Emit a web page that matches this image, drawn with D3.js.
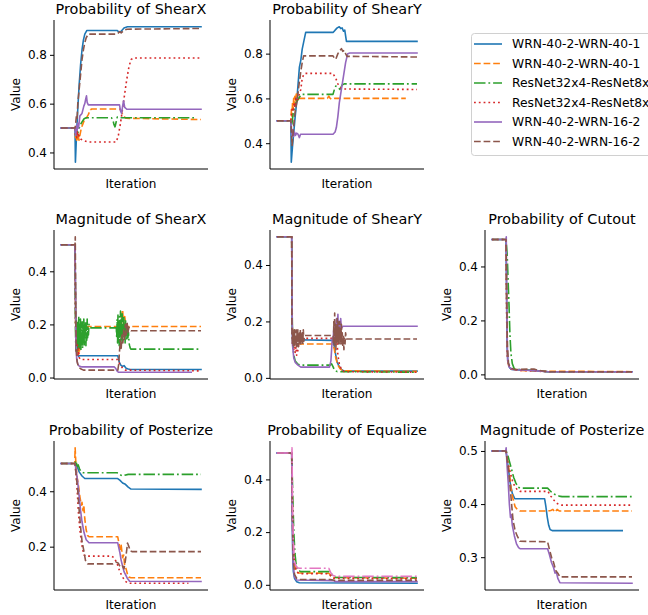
<!DOCTYPE html>
<html><head><meta charset="utf-8">
<script src="https://cdn.jsdelivr.net/npm/d3@7"></script>
<style>body{margin:0;background:#fff}svg{display:block}text{font-family:"DejaVu Sans",sans-serif;fill:#000}</style>
</head><body><svg id="c" width="648" height="615"></svg>
<script>
// ---------------- DATA ----------------
const seriesNames = ["WRN-40-2-WRN-40-1","WRN-40-2-WRN-40-1","ResNet32x4-ResNet8x4","ResNet32x4-ResNet8x4","WRN-40-2-WRN-16-2","WRN-40-2-WRN-16-2"];
const panelTitles = ["Probability of ShearX","Probability of ShearY",null,"Magnitude of ShearX","Magnitude of ShearY","Probability of Cutout","Probability of Posterize","Probability of Equalize","Magnitude of Posterize"];
const yTickValues = [[0.4,0.6,0.8],[0.4,0.6,0.8],null,[0,0.2,0.4],[0,0.2,0.4],[0,0.2,0.4],[0.2,0.4],[0,0.2,0.4],[0.3,0.4,0.5]];
const xLabel = "Iteration", yLabel = "Value";

// each series: [iteration(% of run), value]
const probShearX = [
 [[0,.5],[10,.5],[10.3,.36],[11,.46],[12,.58],[13,.68],[14,.76],[15,.82],[16,.86],[17,.885],[18.5,.9],[40,.9],[41.5,.893],[43,.897],[45,.91],[47.5,.915],[100,.915]],
 [[0,.5],[10,.5],[10.4,.46],[10.8,.49],[11.2,.45],[11.6,.48],[12,.455],[12.4,.47],[12.8,.45],[13.5,.47],[14.5,.5],[15.5,.515],[16.5,.53],[18,.54],[19.5,.555],[21,.575],[22,.578],[42,.578],[43,.57],[44.5,.55],[46.5,.54],[100,.535]],
 [[0,.5],[10,.5],[10.5,.47],[11.2,.49],[12,.48],[13,.5],[14,.515],[15,.525],[16.5,.538],[18,.542],[36,.542],[37,.535],[37.8,.515],[38.6,.505],[39.4,.525],[40.2,.545],[41.5,.542],[95,.542]],
 [[0,.5],[10,.5],[10.4,.47],[10.8,.5],[11.2,.46],[11.6,.49],[12,.465],[12.5,.48],[13,.46],[14,.455],[15.5,.45],[17,.447],[19,.443],[39.5,.443],[41,.47],[42.5,.52],[44,.58],[45.5,.64],[47,.7],[48.5,.75],[50,.78],[51.5,.787],[100,.787]],
 [[0,.5],[10,.5],[10.5,.47],[11,.51],[11.5,.49],[12,.52],[12.5,.5],[13.5,.55],[15,.56],[16.3,.59],[17,.6],[17.7,.62],[18.2,.632],[18.7,.605],[19.5,.595],[41.8,.595],[42.5,.57],[43.3,.56],[44,.59],[44.7,.612],[45.5,.585],[47,.577],[100,.577]],
 [[0,.5],[10,.5],[10.5,.52],[11,.55],[11.5,.54],[12,.6],[13,.66],[14,.72],[15,.78],[16,.82],[17,.85],[18,.87],[19.5,.885],[40,.885],[41,.89],[42,.895],[43,.89],[45,.9],[47,.905],[100,.908]]
];
const probShearY = [
 [[0,.5],[9.9,.5],[10.2,.315],[11,.38],[12,.45],[13,.52],[14,.58],[15,.66],[16,.74],[17,.77],[18,.82],[19,.85],[20.5,.895],[40.2,.895],[41.5,.905],[43,.915],[44.5,.92],[45.5,.912],[46.5,.915],[47.5,.9],[48.4,.905],[49.6,.855],[100,.855]],
 [[0,.5],[9.9,.5],[10.3,.55],[10.7,.52],[11.1,.58],[11.5,.55],[11.9,.6],[12.3,.57],[12.8,.61],[13.3,.59],[13.8,.62],[14.5,.6],[16,.6],[36,.6],[37,.61],[38,.6],[39,.596],[41,.6],[92,.6]],
 [[0,.5],[9.9,.5],[10.5,.48],[11.5,.53],[12.5,.56],[13.5,.58],[15,.595],[16.5,.61],[17.5,.618],[40,.618],[41,.64],[42,.655],[43.5,.65],[45,.64],[46.5,.66],[48,.665],[100,.665]],
 [[0,.5],[9.9,.5],[10.4,.53],[11,.56],[11.6,.54],[12.2,.58],[12.8,.56],[13.5,.6],[14.5,.59],[16,.62],[17,.64],[18,.69],[19,.705],[20,.712],[40,.712],[41,.7],[42,.69],[43.5,.665],[45,.65],[46.8,.642],[100,.64]],
 [[0,.5],[9.9,.5],[10.3,.47],[10.8,.43],[11.3,.46],[11.8,.43],[12.5,.45],[13.2,.435],[14,.445],[15,.44],[16,.425],[16.8,.44],[18,.44],[40,.44],[41.5,.45],[42.4,.47],[43.5,.52],[44.5,.58],[46,.64],[47.5,.7],[49,.76],[50.5,.8],[52,.803],[100,.803]],
 [[0,.5],[9.9,.5],[10.3,.45],[10.8,.39],[11.3,.43],[11.8,.47],[12.5,.52],[13.5,.56],[14.6,.6],[15.5,.65],[17,.72],[18,.76],[19,.79],[40,.79],[41,.78],[42,.775],[43.5,.8],[45,.815],[46,.822],[47,.81],[48,.815],[49,.8],[50,.788],[100,.785]]
];
const magShearX = [
 [[0,.5],[10,.5],[10.5,.25],[11,.12],[11.5,.09],[12.5,.08],[13,.082],[40.6,.082],[41.5,.06],[42.5,.048],[44,.042],[45,.045],[46.5,.035],[48,.032],[49.5,.03],[100,.03]],
 [[0,.5],[10,.5],[10.4,.2],[10.8,.12],[11.2,.19],[11.6,.09],[12,.16],[12.4,.08],[12.8,.13],[13.2,.1],[13.6,.17],[14,.19],[16,.192],[39,.192],[40,.19],[41,.2],[42,.17],[43,.22],[44,.255],[44.7,.2],[45.5,.23],[46.5,.19],[48,.192],[100,.192]],
 [[0,.5],[10,.5],[10.3,.2],[10.6,.1],[10.9,.22],[11.2,.12],[11.5,.21],[11.8,.1],[12.1,.19],[12.4,.13],[12.7,.23],[13,.11],[13.3,.2],[13.6,.12],[13.9,.22],[14.2,.1],[14.5,.18],[14.8,.14],[15.1,.21],[15.4,.11],[15.7,.2],[16,.13],[16.3,.22],[16.6,.12],[16.9,.19],[17.2,.15],[17.5,.21],[17.8,.12],[18.1,.2],[18.4,.14],[18.7,.22],[19,.15],[19.3,.19],[19.6,.16],[20,.2],[20.5,.187],[39.5,.187],[39.8,.15],[40.1,.22],[40.4,.13],[40.7,.24],[41,.14],[41.3,.21],[41.6,.12],[41.9,.23],[42.2,.15],[42.5,.25],[42.8,.13],[43.1,.22],[43.4,.16],[43.7,.24],[44,.14],[44.3,.2],[44.6,.17],[44.9,.23],[45.2,.15],[45.5,.2],[45.8,.13],[46.1,.22],[46.4,.16],[46.7,.2],[47,.14],[47.4,.19],[47.8,.15],[48.2,.17],[48.6,.13],[49,.12],[49.5,.11],[50,.107],[100,.107]],
 [[0,.5],[10,.5],[10.5,.2],[11,.1],[11.5,.13],[12,.08],[12.5,.11],[13,.075],[14,.068],[40.5,.068],[42,.05],[44,.035],[46,.028],[100,.025]],
 [[0,.5],[10,.5],[10.6,.15],[11.2,.07],[12,.05],[13,.043],[15,.04],[38,.04],[39,.035],[40,.025],[41,.02],[93,.02]],
 [[0,.5],[10,.5],[10.2,.53],[10.6,.2],[11,.1],[11.5,.06],[12.5,.04],[14,.033],[16,.028],[40.6,.028],[41.2,.05],[41.8,.1],[42.4,.14],[43,.11],[43.6,.16],[44.2,.13],[44.8,.18],[45.4,.14],[46,.2],[46.6,.16],[47.2,.21],[47.8,.17],[48.5,.19],[49.2,.18],[50,.176],[100,.176]]
];
const magShearY = [
 [[0,.5],[10.5,.5],[10.8,.2],[11.2,.14],[12,.13],[13,.135],[40,.133],[41,.11],[42,.08],[43,.055],[44.5,.04],[46,.03],[48,.024],[100,.024]],
 [[0,.5],[10.5,.5],[10.8,.2],[11.5,.13],[13,.12],[40,.12],[41,.1],[42,.07],[43.5,.045],[45,.033],[47,.025],[100,.023]],
 [[0,.5],[10.5,.5],[11,.15],[12,.08],[13,.06],[15,.048],[17,.045],[38,.045],[39,.05],[40,.04],[41,.028],[43,.022],[100,.02]],
 [[0,.5],[10.5,.5],[10.8,.16],[11.2,.12],[11.6,.15],[12,.1],[12.5,.13],[13,.09],[13.5,.11],[14,.08],[15,.1],[16,.13],[17,.14],[40,.14],[40.5,.13],[41,.17],[41.5,.12],[42,.16],[42.5,.14],[43,.12],[43.5,.08],[44.5,.05],[46,.03],[48,.022],[100,.02]],
 [[0,.5],[10.5,.5],[11,.12],[12,.07],[13,.055],[15,.045],[17,.038],[37.5,.038],[38.5,.06],[39,.1],[39.5,.14],[40,.13],[40.5,.17],[41,.14],[41.5,.19],[42,.15],[42.5,.21],[43,.16],[43.5,.225],[44,.15],[44.5,.2],[45,.17],[45.5,.21],[46,.175],[47,.183],[100,.183]],
 [[0,.5],[10.5,.5],[10.7,.16],[11,.12],[11.3,.17],[11.6,.11],[11.9,.16],[12.2,.12],[12.5,.17],[12.8,.11],[13.1,.15],[13.4,.12],[13.7,.17],[14,.11],[14.3,.16],[14.6,.13],[14.9,.17],[15.2,.11],[15.5,.15],[15.8,.12],[16.1,.16],[16.4,.13],[16.7,.17],[17,.12],[17.3,.15],[17.6,.13],[18,.16],[18.4,.12],[18.8,.17],[19.2,.13],[19.6,.15],[20.2,.15],[40,.15],[40.3,.12],[40.6,.2],[40.9,.11],[41.2,.23],[41.5,.13],[41.8,.19],[42.1,.1],[42.4,.18],[42.7,.12],[43,.21],[43.3,.14],[43.6,.2],[43.9,.12],[44.2,.18],[44.5,.14],[44.8,.2],[45.1,.12],[45.4,.17],[45.7,.13],[46,.19],[46.3,.12],[46.6,.16],[47,.11],[47.4,.15],[47.8,.1],[48.2,.14],[48.6,.12],[49,.16],[49.5,.138],[100,.138]]
];
const probCutout = [
 [[0,.5],[10,.5],[10.4,.3],[10.8,.1],[11.3,.05],[12.5,.025],[14,.018],[20,.016],[30,.015],[40,.01],[100,.01]],
 [[0,.5],[10,.5],[10.5,.25],[11,.08],[11.5,.04],[12.5,.03],[14,.02],[20,.015],[35,.012],[100,.01]],
 [[0,.5],[10,.5],[10.8,.45],[11.5,.35],[12.2,.25],[12.8,.15],[13.5,.08],[14.5,.04],[16,.02],[25,.016],[40,.01],[100,.01]],
 [[0,.5],[10,.5],[10.5,.2],[11,.06],[12,.03],[13.5,.02],[20,.015],[40,.01],[100,.008]],
 [[0,.5],[10,.5],[10.2,.51],[10.6,.2],[11.2,.05],[12.5,.025],[15,.018],[30,.014],[40,.01],[100,.01]],
 [[0,.5],[10,.5],[10.5,.3],[11,.1],[11.8,.04],[13,.025],[16,.018],[30,.02],[33,.015],[40,.01],[100,.01]]
];
const probPosterize = [
 [[0,.5],[10,.5],[11.5,.49],[13,.47],[15,.455],[17,.446],[40.5,.446],[42,.44],[44,.43],[46,.425],[48,.415],[50,.408],[100,.407]],
 [[0,.5],[9.8,.5],[10.1,.557],[10.6,.5],[11.5,.45],[12.5,.42],[13.5,.38],[14.5,.35],[15,.36],[15.7,.33],[16.3,.35],[17,.3],[18,.26],[19,.24],[20,.236],[40.5,.236],[41.5,.21],[42.3,.19],[43,.205],[44,.16],[44.8,.17],[45.5,.13],[46.5,.12],[47.5,.1],[48.5,.09],[50,.088],[100,.088]],
 [[0,.5],[10,.5],[10.7,.51],[11.5,.49],[12.3,.495],[13.3,.48],[14.5,.47],[16,.467],[40,.467],[42,.46],[44,.455],[45.5,.458],[48,.461],[100,.461]],
 [[0,.5],[10,.5],[10.8,.46],[11.6,.4],[12.5,.32],[13.5,.26],[14.5,.22],[15.5,.19],[16.5,.17],[17.5,.166],[36,.166],[38,.16],[40,.14],[42,.11],[44,.09],[46,.075],[48,.068],[91,.068]],
 [[0,.5],[10,.5],[11,.47],[12,.43],[13,.38],[14,.33],[15,.29],[16.5,.25],[18,.225],[20,.214],[40.5,.214],[42,.18],[43,.15],[44,.13],[45,.11],[46,.1],[47.5,.085],[49,.075],[100,.074]],
 [[0,.5],[10,.5],[11,.45],[12,.4],[13,.33],[14,.27],[15,.22],[16.5,.18],[17.5,.15],[19,.138],[37,.138],[39,.145],[41,.14],[42,.13],[43,.125],[44,.13],[45,.12],[46,.15],[47,.19],[47.5,.213],[48.5,.2],[49.5,.185],[51,.182],[100,.182]]
];
const probEqualize = [
 [[0,.5],[10.5,.5],[10.8,.3],[11.2,.12],[11.7,.05],[12.5,.025],[14,.012],[16,.008],[100,.006]],
 [[0,.5],[10.5,.5],[11,.3],[11.6,.15],[12.4,.08],[13.5,.055],[15,.045],[37,.044],[38.5,.035],[40,.028],[100,.025]],
 [[0,.5],[10.5,.5],[11.2,.35],[12,.2],[12.8,.12],[13.8,.07],[15,.055],[17,.05],[37,.05],[38.5,.045],[40,.032],[42,.028],[100,.027]],
 [[0,.5],[10.5,.5],[11,.3],[11.6,.15],[12.5,.08],[14,.05],[16,.042],[37,.042],[38.5,.033],[40,.025],[100,.022]],
 [[0,.5],[10.5,.5],[10.9,.25],[11.5,.08],[12.5,.03],[14,.018],[40,.016],[42,.012],[100,.012]],
 [[0,.5],[10.5,.5],[11,.25],[11.6,.1],[12.5,.04],[14,.025],[16,.02],[38,.02],[41,.017],[100,.017]],
 [[0,.5],[10.5,.5],[10.7,.52],[11.1,.3],[11.6,.18],[12.3,.1],[13.2,.075],[14.5,.065],[16,.063],[37,.063],[38.5,.045],[40,.035],[42,.032],[100,.032]]
];
const magPosterize = [
 [[0,.5],[10,.5],[11,.48],[12,.46],[13,.44],[14.5,.42],[16.3,.41],[37.6,.41],[38.5,.395],[39.5,.375],[40.5,.36],[41.5,.352],[43,.35],[93,.35]],
 [[0,.5],[10,.5],[11.2,.48],[12.4,.46],[13.6,.43],[15,.41],[16.5,.395],[18,.39],[20,.387],[40,.387],[42,.388],[43.5,.39],[45,.385],[46.5,.39],[48,.387],[100,.387]],
 [[0,.5],[10,.5],[11,.495],[12.5,.48],[14,.465],[15.5,.45],[17,.44],[18.5,.432],[20,.43],[39.7,.43],[41.5,.425],[43.5,.42],[46,.417],[48,.415],[50,.414],[100,.414]],
 [[0,.5],[10,.5],[11.2,.48],[13,.46],[14.5,.445],[16,.435],[18,.427],[20,.424],[40,.424],[42,.415],[44,.408],[46,.402],[48,.399],[50,.398],[100,.398]],
 [[0,.5],[9.8,.5],[10.1,.506],[10.8,.47],[11.6,.44],[12.4,.4],[13.2,.375],[13.8,.38],[14.5,.36],[16,.34],[17.5,.325],[19,.318],[20,.316],[39.7,.316],[41,.305],[42.5,.29],[44,.28],[45,.27],[46,.272],[47,.26],[48.5,.252],[100,.251]],
 [[0,.5],[10,.5],[11,.48],[12,.46],[13,.43],[14,.4],[15,.37],[16.5,.35],[18,.34],[20,.33],[39.7,.329],[41,.315],[42.5,.3],[44,.29],[45.5,.275],[47,.27],[48.5,.263],[100,.263]]
];
const panelData = [probShearX, probShearY, null, magShearX, magShearY, probCutout, probPosterize, probEqualize, magPosterize];

// ---------------- STYLE / LAYOUT ----------------
const colors = ["#1f77b4","#ff7f0e","#2ca02c","#d62728","#9467bd","#8c564b","#e377c2"];
const lw = 1.6;
const dashes = ["", "6.7,2.9", "11.5,2.9,1.8,2.9", "1.8,3", "", "6.7,2.9", "11.5,2.9,1.8,2.9"];
const colX = [54, 270, 485], rowY = [20, 230, 441];
const AW = 154, AH = 149;

const svg = d3.select("#c");

panelData.forEach((data, i) => {
  const cx = colX[i % 3], cy = rowY[Math.floor(i / 3)];
  if (!data) return;
  const g = svg.append("g").attr("transform", `translate(${cx},${cy})`);
  const x = d3.scaleLinear().domain([-5, 105]).range([0, AW]);
  const all = data.flat();
  const [mn, mx] = d3.extent(all, d => d[1]);
  const pad = (mx - mn) * 0.05;
  const y = d3.scaleLinear().domain([mn - pad, mx + pad]).range([AH, 0]);

  const line = d3.line().x(d => x(d[0])).y(d => y(d[1]));
  data.forEach((s, k) => {
    g.append("path").datum(s).attr("d", line)
      .attr("fill", "none").attr("stroke", colors[k]).attr("stroke-width", lw)
      .attr("stroke-dasharray", dashes[k] || null)
      .attr("stroke-linejoin", "round").attr("stroke-linecap", dashes[k] ? "butt" : "square");
  });

  const ya = g.append("g").call(d3.axisLeft(y).tickValues(yTickValues[i]).tickFormat(d3.format(".1f")).tickSize(4).tickPadding(3));
  ya.select(".domain").remove();
  ya.selectAll("text").attr("font-size", 12).attr("font-family", "DejaVu Sans").attr("fill", "#000");
  ya.selectAll("line").attr("stroke", "#000").attr("stroke-width", 1);
  g.append("line").attr("x1", 0).attr("x2", 0).attr("y1", 0).attr("y2", AH).attr("stroke", "#000").attr("stroke-width", 1);
  g.append("line").attr("x1", 0).attr("x2", AW).attr("y1", AH).attr("y2", AH).attr("stroke", "#000").attr("stroke-width", 1);

  g.append("text").attr("x", AW / 2).attr("y", -6).attr("text-anchor", "middle").attr("font-size", 14.4).text(panelTitles[i]);
  g.append("text").attr("x", AW / 2).attr("y", AH + 19).attr("text-anchor", "middle").attr("font-size", 12).text(xLabel);
  g.append("text").attr("transform", `translate(-34,${AH / 2}) rotate(-90)`).attr("text-anchor", "middle").attr("font-size", 12).text(yLabel);
});

// legend
const lg = svg.append("g").attr("transform", "translate(471,33)");
lg.append("rect").attr("x", 0.5).attr("y", 0.5).attr("width", 220).attr("height", 122).attr("rx", 3)
  .attr("fill", "#fff").attr("stroke", "#d0d0d0").attr("stroke-width", 1);
seriesNames.forEach((n, k) => {
  const yy = 11 + k * 19.5;
  lg.append("line").attr("x1", 3).attr("x2", 31).attr("y1", yy).attr("y2", yy)
    .attr("stroke", colors[k]).attr("stroke-width", lw).attr("stroke-dasharray", dashes[k] || null);
  lg.append("text").attr("x", 41).attr("y", yy).attr("dy", "0.35em").attr("font-size", 12.3).text(n);
});
</script></body></html>
